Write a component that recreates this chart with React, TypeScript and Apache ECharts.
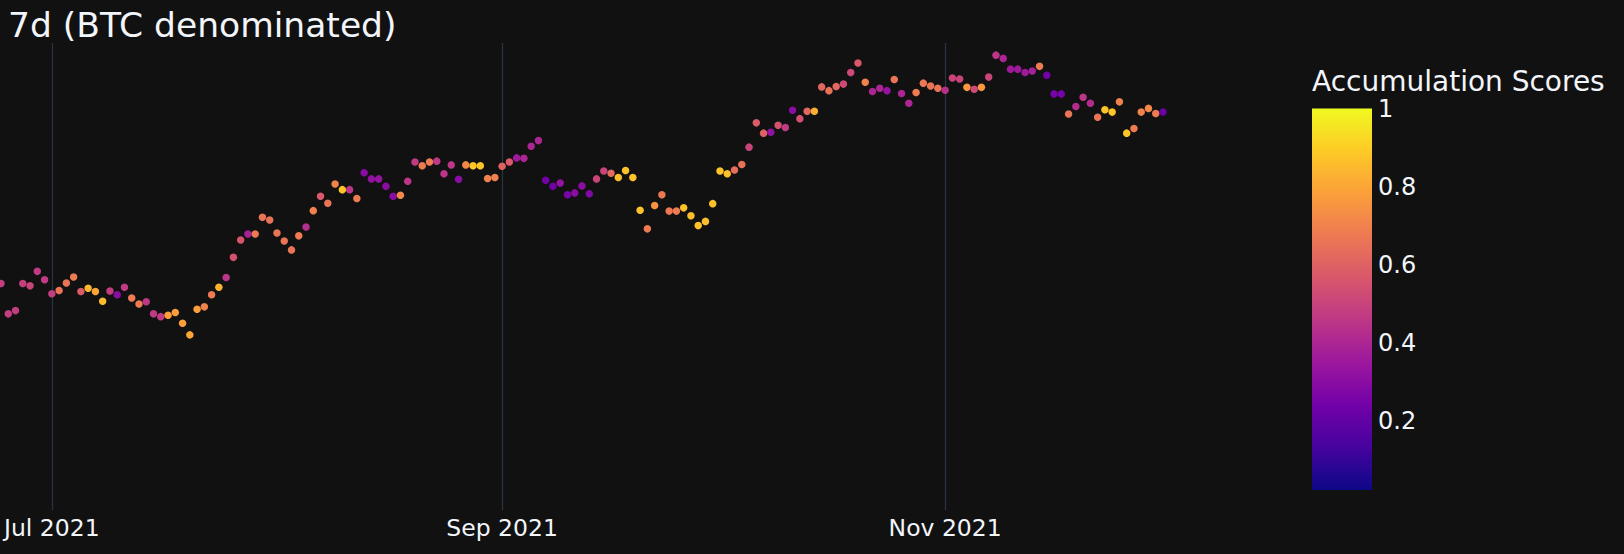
import React, { useEffect, useRef } from 'react';
import * as echarts from 'echarts';

const dates = [
  '2021-06-24','2021-06-25','2021-06-26','2021-06-27','2021-06-28','2021-06-29','2021-06-30',
  '2021-07-01','2021-07-02','2021-07-03','2021-07-04','2021-07-05','2021-07-06','2021-07-07','2021-07-08','2021-07-09','2021-07-10',
  '2021-07-11','2021-07-12','2021-07-13','2021-07-14','2021-07-15','2021-07-16','2021-07-17','2021-07-18','2021-07-19','2021-07-20',
  '2021-07-21','2021-07-22','2021-07-23','2021-07-24','2021-07-25','2021-07-26','2021-07-27','2021-07-28','2021-07-29','2021-07-30','2021-07-31',
  '2021-08-01','2021-08-02','2021-08-03','2021-08-04','2021-08-05','2021-08-06','2021-08-07','2021-08-08','2021-08-09','2021-08-10',
  '2021-08-11','2021-08-12','2021-08-13','2021-08-14','2021-08-15','2021-08-16','2021-08-17','2021-08-18','2021-08-19','2021-08-20',
  '2021-08-21','2021-08-22','2021-08-23','2021-08-24','2021-08-25','2021-08-26','2021-08-27','2021-08-28','2021-08-29','2021-08-30','2021-08-31',
  '2021-09-01','2021-09-02','2021-09-03','2021-09-04','2021-09-05','2021-09-06','2021-09-07','2021-09-08','2021-09-09','2021-09-10',
  '2021-09-11','2021-09-12','2021-09-13','2021-09-14','2021-09-15','2021-09-16','2021-09-17','2021-09-18','2021-09-19','2021-09-20',
  '2021-09-21','2021-09-22','2021-09-23','2021-09-24','2021-09-25','2021-09-26','2021-09-27','2021-09-28','2021-09-29','2021-09-30',
  '2021-10-01','2021-10-02','2021-10-03','2021-10-04','2021-10-05','2021-10-06','2021-10-07','2021-10-08','2021-10-09','2021-10-10',
  '2021-10-11','2021-10-12','2021-10-13','2021-10-14','2021-10-15','2021-10-16','2021-10-17','2021-10-18','2021-10-19','2021-10-20',
  '2021-10-21','2021-10-22','2021-10-23','2021-10-24','2021-10-25','2021-10-26','2021-10-27','2021-10-28','2021-10-29','2021-10-30','2021-10-31',
  '2021-11-01','2021-11-02','2021-11-03','2021-11-04','2021-11-05','2021-11-06','2021-11-07','2021-11-08','2021-11-09','2021-11-10',
  '2021-11-11','2021-11-12','2021-11-13','2021-11-14','2021-11-15','2021-11-16','2021-11-17','2021-11-18','2021-11-19','2021-11-20',
  '2021-11-21','2021-11-22','2021-11-23','2021-11-24','2021-11-25','2021-11-26','2021-11-27','2021-11-28','2021-11-29','2021-11-30',
  '2021-12-01',
];

// 7d price, BTC denominated (relative units)
const prices = [
  48.5, 42.0, 42.7, 48.5, 48.0, 51.1, 49.3,
  46.3, 47.0, 48.6, 49.9, 46.8, 47.5, 46.8, 44.7, 46.9, 46.1,
  47.7, 45.4, 44.1, 44.6, 42.0, 41.4, 41.7, 42.3, 40.0, 37.5,
  43.0, 43.5, 46.1, 47.7, 49.8, 54.1, 57.8, 59.1, 59.1, 62.7, 62.1,
  59.3, 57.6, 55.7, 58.7, 60.6, 64.1, 67.2, 65.7, 69.8, 68.6,
  68.6, 66.7, 72.2, 70.9, 70.9, 69.3, 67.2, 67.4, 70.4, 74.5,
  73.7, 74.5, 74.7, 72.0, 73.9, 70.8, 73.9, 73.7, 73.7, 71.0, 71.2,
  73.6, 74.5, 75.4, 75.3, 77.9, 79.1, 70.6, 69.3, 70.0, 67.5,
  67.9, 69.4, 67.7, 70.9, 72.6, 72.1, 71.2, 72.7, 71.2, 64.2,
  60.2, 65.2, 67.5, 64.0, 64.0, 64.7, 63.0, 60.9, 61.8, 65.6,
  72.6, 72.0, 72.8, 74.0, 77.7, 82.9, 80.7, 80.9, 82.4, 81.9,
  85.6, 83.8, 85.4, 85.4, 90.6, 89.8, 90.7, 91.2, 93.7, 95.7,
  91.6, 89.6, 90.3, 89.8, 92.2, 89.2, 87.1, 89.4, 91.4, 90.8, 90.3,
  89.9, 92.5, 92.3, 90.5, 90.1, 90.5, 92.7, 97.4, 96.7, 94.4,
  94.4, 93.7, 94.0, 95.0, 93.1, 89.1, 89.1, 84.8, 86.4, 88.4,
  87.1, 84.1, 85.7, 85.2, 87.4, 80.7, 81.7, 85.2, 86.0, 84.9,
  85.2,
];

const scores = [
  0.48, 0.48, 0.48, 0.49, 0.50, 0.47, 0.47,
  0.48, 0.66, 0.66, 0.68, 0.58, 0.84, 0.80, 0.85, 0.48, 0.30,
  0.47, 0.68, 0.68, 0.46, 0.47, 0.47, 0.78, 0.78, 0.78, 0.80,
  0.78, 0.70, 0.68, 0.83, 0.45, 0.55, 0.56, 0.38, 0.67, 0.66, 0.65,
  0.66, 0.66, 0.66, 0.68, 0.43, 0.70, 0.57, 0.66, 0.70, 0.88,
  0.45, 0.68, 0.30, 0.32, 0.33, 0.30, 0.30, 0.72, 0.45, 0.47,
  0.68, 0.68, 0.46, 0.45, 0.45, 0.30, 0.72, 0.88, 0.88, 0.70, 0.70,
  0.60, 0.58, 0.36, 0.40, 0.40, 0.40, 0.24, 0.23, 0.33, 0.26,
  0.30, 0.30, 0.28, 0.50, 0.50, 0.63, 0.86, 0.87, 0.87, 0.87,
  0.68, 0.75, 0.67, 0.67, 0.68, 0.87, 0.86, 0.87, 0.86, 0.87,
  0.88, 0.87, 0.64, 0.65, 0.50, 0.58, 0.60, 0.32, 0.55, 0.47,
  0.30, 0.55, 0.62, 0.82, 0.62, 0.65, 0.62, 0.52, 0.52, 0.57,
  0.70, 0.40, 0.40, 0.33, 0.66, 0.40, 0.40, 0.68, 0.67, 0.66, 0.66,
  0.43, 0.50, 0.50, 0.76, 0.52, 0.76, 0.50, 0.45, 0.40, 0.36,
  0.36, 0.36, 0.38, 0.68, 0.24, 0.25, 0.25, 0.66, 0.42, 0.45,
  0.42, 0.66, 0.88, 0.88, 0.70, 0.88, 0.68, 0.70, 0.72, 0.68,
  0.22,
];

const monthTicks = ['2021-07-01', '2021-09-01', '2021-11-01'];
const colorbarTicks = [0.2, 0.4, 0.6, 0.8, 1];
const scoreMin = 0.023;
const scoreMax = 1;
const plasma = ['#0d0887', '#46039f', '#7201a8', '#9c179e', '#bd3786', '#d8576b', '#ed7953', '#fb9f3a', '#fdca26', '#f0f921'];
const MONTHS = ['Jan', 'Feb', 'Mar', 'Apr', 'May', 'Jun', 'Jul', 'Aug', 'Sep', 'Oct', 'Nov', 'Dec'];

const DAY = 86400000;
const toTs = (s: string) => Date.parse(s + 'T00:00:00Z');
const FONT = 'DejaVu Sans';
const TXT = '#f2f5fa';

export default function App() {
  const ref = useRef<HTMLDivElement>(null);
  useEffect(() => {
    document.body.style.margin = '0';
    document.body.style.background = '#111111';
    const chart = echarts.init(ref.current!, null, { renderer: 'svg' });
    const plotLeft = 0;
    const plotW = 1240;
    const pxPerDay = 7.2625;
    const xMin = toTs('2021-06-24') - (1 / pxPerDay) * DAY;
    const xMax = xMin + (plotW / pxPerDay) * DAY;
    const data = dates.map((d, i) => [toTs(d), prices[i], scores[i]]);
    const tickTs = monthTicks.map(toTs);

    chart.setOption({
      animation: false,
      backgroundColor: '#111111',
      textStyle: { fontFamily: FONT },
      title: [
        {
          text: '7d (BTC denominated)',
          left: 8,
          top: 7,
          padding: 0,
          textStyle: { color: TXT, fontFamily: FONT, fontSize: 34.5, fontWeight: 'normal' },
        },
        {
          text: 'Accumulation Scores',
          left: 1312,
          top: 67,
          padding: 0,
          textStyle: { color: TXT, fontFamily: FONT, fontSize: 28, fontWeight: 'normal' },
        },
      ],
      grid: [
        { left: plotLeft, top: 43, width: plotW, height: 467, containLabel: false },
        {
          left: 1312,
          top: 108.5,
          width: 60,
          height: 381.5,
          show: true,
          borderWidth: 0,
          backgroundColor: new echarts.graphic.LinearGradient(
            0, 1, 0, 0,
            plasma.map((c, i) => ({ offset: i / (plasma.length - 1), color: c }))
          ),
        },
      ],
      xAxis: [
        {
          type: 'value',
          gridIndex: 0,
          min: xMin,
          max: xMax,
          axisLine: { show: false },
          axisTick: { show: false, customValues: tickTs },
          splitLine: { show: true, lineStyle: { color: '#283442', width: 1.2 } },
          axisLabel: {
            customValues: tickTs,
            color: TXT,
            fontFamily: FONT,
            fontSize: 23.5,
            margin: 6,
            formatter: (v: number) => {
              const d = new Date(v);
              return MONTHS[d.getUTCMonth()] + ' ' + d.getUTCFullYear();
            },
          },
        },
        { type: 'value', gridIndex: 1, min: 0, max: 1, show: false },
      ],
      yAxis: [
        {
          type: 'value',
          gridIndex: 0,
          min: 0,
          max: 100,
          show: false,
        },
        {
          type: 'value',
          gridIndex: 1,
          min: scoreMin,
          max: scoreMax,
          position: 'right',
          axisLine: { show: false },
          axisTick: { show: false },
          splitLine: { show: false },
          axisLabel: {
            customValues: colorbarTicks,
            color: TXT,
            fontFamily: FONT,
            fontSize: 24,
            margin: 6,
            formatter: (v: number) => String(Math.round(v * 10) / 10),
          },
        },
      ],
      visualMap: {
        type: 'continuous',
        show: false,
        min: scoreMin,
        max: scoreMax,
        dimension: 2,
        seriesIndex: 0,
        inRange: { color: plasma },
      },
      series: [
        {
          type: 'scatter',
          xAxisIndex: 0,
          yAxisIndex: 0,
          symbol: 'circle',
          symbolSize: 7.5,
          data,
          itemStyle: { opacity: 1 },
        },
        { type: 'scatter', xAxisIndex: 1, yAxisIndex: 1, data: [] },
      ],
    });
    return () => chart.dispose();
  }, []);
  return <div ref={ref} style={{ width: 1624, height: 554 }} />;
}
